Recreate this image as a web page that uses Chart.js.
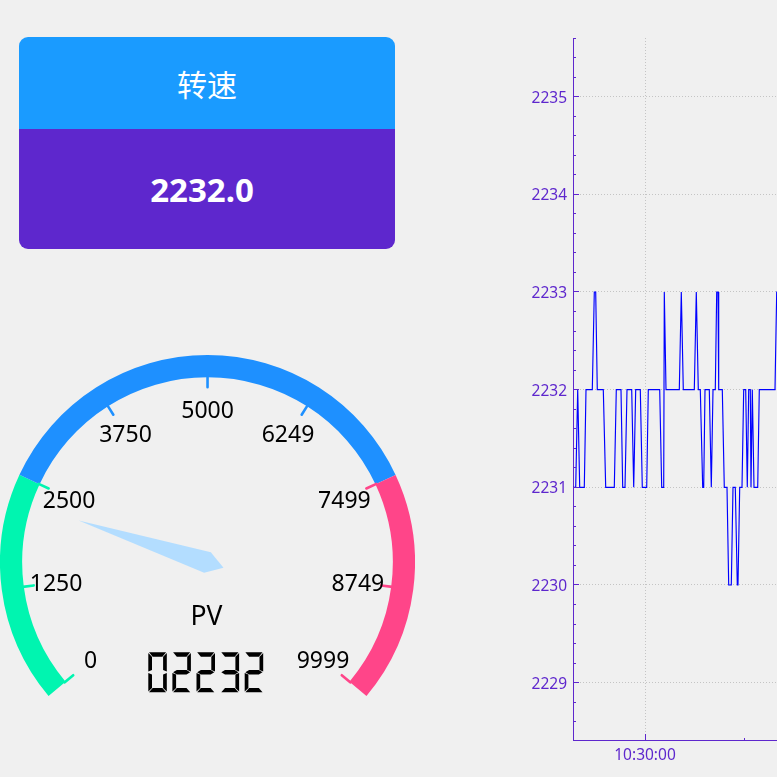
<!DOCTYPE html>
<html>
<head>
<meta charset="utf-8">
<title>转速</title>
<script src="https://cdn.jsdelivr.net/npm/chart.js@4"></script>
<style>
  html, body { margin: 0; padding: 0; width: 777px; height: 777px; overflow: hidden; background: #f0f0f0; }
  #card { position: absolute; left: 19px; top: 37px; width: 376px; height: 212px; border-radius: 9px; overflow: hidden; color: #fff; text-align: center; }
  #cardTitle { height: 92px; background: #1a9bff; font: 30px/92px "Noto Sans CJK SC", sans-serif; }
  #cardValue { height: 120px; padding-right: 10px; background: #5e27cd; font: bold 33px/122px "Noto Sans", sans-serif; }
  #gauge { position: absolute; left: 0; top: 355px; }
  #trend { position: absolute; left: 510px; top: 0; }
</style>
</head>
<body>
<div id="card">
  <div id="cardTitle">转速</div>
  <div id="cardValue">2232.0</div>
</div>
<canvas id="gauge" width="415" height="341" aria-label="PV 02232"></canvas>
<canvas id="trend" width="267" height="777"></canvas>

<script>
// gauge data
const gaugeRanges = [2500, 5000, 2499];
const gaugeColors = ['#00f5b0', '#1e90ff', '#ff4589'];
const gaugeTicks = [0, 1250, 2500, 3750, 5000, 6249, 7499, 8749, 9999];
const gaugeMax = 9999;
const gaugeValue = 2232;
const lcdText = '02232';

// trend data, seconds from 10:30:00 and the reading at that moment
const trendTimes = [-36, -34.65, -33.65, -32.65, -30.35, -29.5, -26.35, -25.35, -24.65, -23.85,
  -20.85, -19.65, -15.35, -14.35, -12, -11.15, -10, -9, -6.65, -5.65,
  -4.65, -2.35, -1.35, 0.85, 1.65, 7.35, 8.35, 9.35, 9.65, 10.5,
  17.15, 18.15, 19.15, 24.65, 25.65, 26.65, 27.65, 28.85, 29.35, 30,
  32.15, 33.15, 34, 35.15, 35.85, 36.5, 36.85, 38.65, 39.65, 41,
  41.85, 43.15, 44, 45.15, 46.15, 46.5, 47.35, 48.5, 49.35, 50.35,
  51.15, 51.85, 52.65, 53, 53.65, 54.5, 56.35, 57.15, 65, 65.85, 66];
const trendValues = [2231, 2231, 2232, 2231, 2231, 2232, 2232, 2233, 2233, 2232,
  2232, 2231, 2231, 2232, 2232, 2231, 2231, 2232, 2232, 2231,
  2232, 2232, 2231, 2231, 2232, 2232, 2231, 2231, 2233, 2232,
  2232, 2233, 2232, 2232, 2233, 2232, 2232, 2231, 2231, 2232,
  2232, 2231, 2232, 2232, 2233, 2233, 2232, 2232, 2231, 2231,
  2230, 2230, 2231, 2231, 2230, 2230, 2231, 2231, 2232, 2232,
  2231, 2232, 2232, 2231, 2232, 2231, 2231, 2232, 2232, 2233, 2233];
const yTicks = [2229, 2230, 2231, 2232, 2233, 2234, 2235];
const yMinorTicks = [2228.6, 2228.8, 2229.2, 2229.4, 2229.6, 2229.8, 2230.2, 2230.4, 2230.6, 2230.8,
  2231.2, 2231.4, 2231.6, 2231.8, 2232.2, 2232.4, 2232.6, 2232.8, 2233.2, 2233.4, 2233.6, 2233.8,
  2234.2, 2234.4, 2234.6, 2234.8, 2235.2, 2235.4, 2235.6];
const xTicks = [0, 49.5];
const xTickLabels = ['10:30:00', ''];

const axisColor = '#5e27cd';
const gridColor = '#c4c4c4';
const labelFont = '"Noto Sans", sans-serif';
// small per-label nudges so the gauge numbers sit where the original put them
const labelNudgeX = [0, 0, 0, 0, 0, -1.5, -1.5, -1, -1.5];
const labelNudgeY = [0.5, 1.5, 3.5, 1.5, 1.5, 1.5, 3.5, 1.5, 0.5];

// seven segment layout: top, upper left, upper right, middle, lower left, lower right, bottom
const lcdSegments = {
  '0': [1, 1, 1, 0, 1, 1, 1],
  '2': [1, 0, 1, 1, 1, 0, 1],
  '3': [1, 0, 1, 1, 0, 1, 1]
};

function drawLcdDigit(ctx, ch, x, y, w, h, t) {
  const on = lcdSegments[ch];
  const m = y + h / 2;
  const g = 0.7;
  const shapes = [
    [[x + g, y], [x + w - g, y], [x + w - t, y + t], [x + t, y + t]],
    [[x, y + g], [x + t - g, y + t], [x + t - g, m - t / 2], [x, m - g]],
    [[x + w, y + g], [x + w - t + g, y + t], [x + w - t + g, m - t / 2], [x + w, m - g]],
    [[x + g, m], [x + t, m - t / 2], [x + w - t, m - t / 2], [x + w - g, m], [x + w - t, m + t / 2], [x + t, m + t / 2]],
    [[x, m + g], [x + t - g, m + t / 2], [x + t - g, y + h - t], [x, y + h - g]],
    [[x + w, m + g], [x + w - t + g, m + t / 2], [x + w - t + g, y + h - t], [x + w, y + h - g]],
    [[x + g, y + h], [x + t, y + h - t], [x + w - t, y + h - t], [x + w - g, y + h]]
  ];
  ctx.fillStyle = '#000';
  shapes.forEach((pts, i) => {
    if (!on[i]) return;
    ctx.beginPath();
    pts.forEach((p, j) => j ? ctx.lineTo(p[0], p[1]) : ctx.moveTo(p[0], p[1]));
    ctx.closePath();
    ctx.fill();
  });
}

// ticks, labels, needle and readout on top of the ring
const gaugeDecor = {
  id: 'gaugeDecor',
  afterDraw(chart) {
    const ctx = chart.ctx;
    const arcs = chart.getDatasetMeta(0).data;
    const cx = arcs[0].x;
    const cy = arcs[0].y;
    const inner = arcs[0].innerRadius;
    const start = arcs[0].startAngle;
    const end = arcs[arcs.length - 1].endAngle;
    const angleOf = v => start + (end - start) * v / gaugeMax;

    ctx.save();
    ctx.lineWidth = 2.6;
    ctx.lineCap = 'round';
    ctx.textAlign = 'center';
    ctx.textBaseline = 'middle';
    gaugeTicks.forEach((v, i) => {
      const a = angleOf(v);
      const color = v <= gaugeRanges[0] ? gaugeColors[0] : (v < gaugeRanges[0] + gaugeRanges[1] - 1 ? gaugeColors[1] : gaugeColors[2]);
      ctx.strokeStyle = color;
      ctx.beginPath();
      ctx.moveTo(cx + Math.cos(a) * (inner + 1), cy + Math.sin(a) * (inner + 1));
      ctx.lineTo(cx + Math.cos(a) * (inner - 10), cy + Math.sin(a) * (inner - 10));
      ctx.stroke();
      ctx.fillStyle = '#000';
      ctx.font = '23px ' + labelFont;
      ctx.fillText(String(v), cx + Math.cos(a) * 152.7 + labelNudgeX[i], cy + Math.sin(a) * 152.7 + labelNudgeY[i]);
    });

    // needle
    const a = angleOf(gaugeValue);
    const ux = Math.cos(a), uy = Math.sin(a);
    const px = -uy, py = ux;
    ctx.fillStyle = '#b3ddff';
    ctx.beginPath();
    ctx.moveTo(cx + ux * 135.5, cy + uy * 135.5);
    ctx.lineTo(cx + px * 10.8, cy + py * 10.8);
    ctx.lineTo(cx - ux * 16.8, cy - uy * 16.8);
    ctx.lineTo(cx - px * 10.8, cy - py * 10.8);
    ctx.closePath();
    ctx.fill();

    ctx.fillStyle = '#000';
    ctx.font = '26.5px ' + labelFont;
    ctx.fillText('PV', cx - 1, 262);

    lcdText.split('').forEach((ch, i) => drawLcdDigit(ctx, ch, 148.3 + i * 24.1, 297.3, 18.5, 40, 4.4));
    ctx.restore();
  }
};

new Chart(document.getElementById('gauge'), {
  type: 'doughnut',
  data: {
    datasets: [{ data: gaugeRanges, backgroundColor: gaugeColors, borderWidth: 0 }]
  },
  options: {
    responsive: false,
    animation: false,
    rotation: -130,
    circumference: 260,
    cutout: '89.3%',
    plugins: { legend: { display: false }, tooltip: { enabled: false } }
  },
  plugins: [gaugeDecor]
});

// qwt style ticks that point into the plot
const innerTicks = {
  id: 'innerTicks',
  afterDraw(chart) {
    const ctx = chart.ctx;
    const { x, y } = chart.scales;
    const left = x.left, bottom = y.bottom;
    ctx.save();
    ctx.strokeStyle = axisColor;
    ctx.lineWidth = 1;
    const hLine = (v, len) => {
      const py = Math.floor(y.getPixelForValue(v)) + 0.5;
      ctx.beginPath();
      ctx.moveTo(left, py);
      ctx.lineTo(left + len, py);
      ctx.stroke();
    };
    yTicks.forEach(v => hLine(v, 6));
    yMinorTicks.forEach(v => hLine(v, 3));
    xTicks.forEach((v, i) => {
      const px = Math.round(x.getPixelForValue(v)) + 0.5;
      ctx.beginPath();
      ctx.moveTo(px, bottom);
      ctx.lineTo(px, bottom - (i === 0 ? 6 : 2));
      ctx.stroke();
    });
    ctx.restore();
  }
};

new Chart(document.getElementById('trend'), {
  type: 'line',
  data: {
    labels: trendTimes,
    datasets: [{
      data: trendTimes.map((t, i) => ({ x: t, y: trendValues[i] })),
      borderColor: '#0000ff',
      borderWidth: 1.15,
      pointRadius: 0,
      tension: 0
    }]
  },
  options: {
    responsive: false,
    animation: false,
    layout: { padding: { top: 38, right: 0, left: 0, bottom: 0 } },
    plugins: { legend: { display: false }, tooltip: { enabled: false } },
    scales: {
      x: {
        type: 'linear',
        min: -36,
        max: 66,
        afterBuildTicks: s => { s.ticks = xTicks.map(v => ({ value: v })); },
        afterFit: s => { s.height = 37; },
        ticks: {
          autoSkip: false,
          maxRotation: 0,
          padding: 6,
          color: axisColor,
          font: { family: 'Noto Sans', size: 15.5 },
          callback: (v, i) => xTickLabels[i]
        },
        grid: {
          drawTicks: false,
          color: ctx => ctx.index === 0 ? gridColor : 'transparent'
        },
        border: { color: axisColor, width: 1, dash: [1, 2] }
      },
      y: {
        min: 2228.413,
        max: 2235.6,
        afterBuildTicks: s => { s.ticks = yTicks.map(v => ({ value: v })); },
        afterFit: s => { s.width = 63; },
        ticks: {
          autoSkip: false,
          padding: 6,
          labelOffset: 1.5,
          color: axisColor,
          font: { family: 'Noto Sans', size: 15.5 },
          callback: v => String(v)
        },
        grid: { drawTicks: false, color: gridColor },
        border: { color: axisColor, width: 1, dash: [1, 2] }
      }
    }
  },
  plugins: [innerTicks]
});
</script>
</body>
</html>
